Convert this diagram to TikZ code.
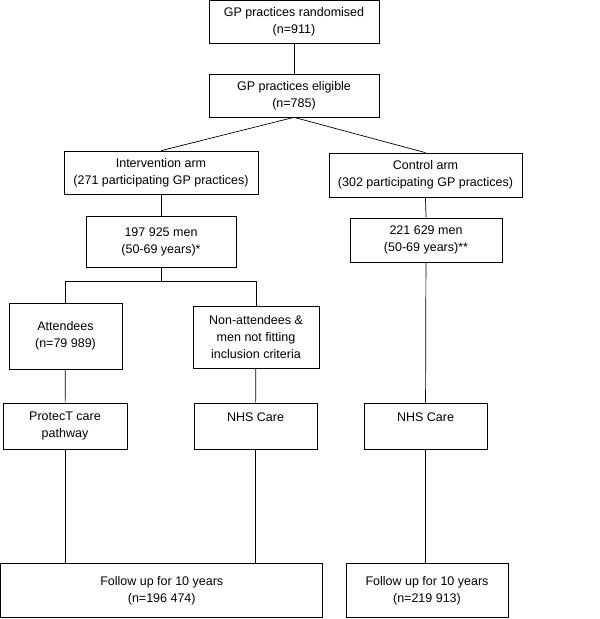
\documentclass[tikz,border=0pt]{standalone}
\usepackage{fontspec}
\setmainfont{Liberation Sans}
\begin{document}
\begin{tikzpicture}[x=1pt,y=-1pt,
  box/.style={draw,line width=0.7pt,align=center,inner sep=2pt,font=\fontsize{12.5}{17}\selectfont},
  link/.style={line width=0.7pt}]
\useasboundingbox (0,0) rectangle (600,619);
\node[box,minimum width=170pt,minimum height=43pt] (rand) at (294,22) {GP practices randomised\\(n=911)};
\node[box,minimum width=170pt,minimum height=43pt] (elig) at (294,95.5) {GP practices eligible\\(n=785)};
\node[box,minimum width=194pt,minimum height=43pt] (interv) at (161,172.5) {Intervention arm\\(271 participating GP practices)};
\node[box,minimum width=193pt,minimum height=44pt] (ctrl) at (425.5,175) {Control arm\\(302 participating GP practices)};
\node[box,minimum width=150pt,minimum height=51pt] (menA) at (161,241.5) {197 925 men\\(50-69 years)*};
\node[box,minimum width=152pt,minimum height=44pt] (menB) at (426,240) {221 629 men\\(50-69 years)**};
\node[box,minimum width=113pt,minimum height=66pt] (att) at (65.5,336) {Attendees\\(n=79 989)};
\node[box,minimum width=126pt,minimum height=62pt] (nonatt) at (256,337) {Non-attendees \&\\men not fitting\\inclusion criteria};
\node[box,minimum width=124pt,minimum height=46pt] (protect) at (65,426) {ProtecT care\\pathway};
\node[box,minimum width=123pt,minimum height=46pt] (nhsA) at (255.5,426) {NHS Care\\~};
\node[box,minimum width=123pt,minimum height=46pt] (nhsB) at (425.5,426) {NHS Care\\~};
\node[box,minimum width=322pt,minimum height=54pt] (followA) at (161.75,590.5) {Follow up for 10 years\\(n=196 474)};
\node[box,minimum width=162pt,minimum height=54pt] (followB) at (427,590.5) {Follow up for 10 years\\(n=219 913)};

\draw[link] (rand) -- (elig);
\draw[link] (elig.south) -- (interv.north);
\draw[link] (elig.south) -- (ctrl.north);
\draw[link] (interv) -- (menA);
\draw[link] (ctrl.south) -- (menB.north);
\draw[link] (menA.south) -- ++(0,14) coordinate (split);
\draw[link] (att.north) |- (split) -| (nonatt.north);
\draw[link] (att) -- (protect);
\draw[link] (nonatt) -- (nhsA);
\draw[link] (menB) -- (nhsB);
\draw[link] (protect.south) -- (protect.south |- followA.north);
\draw[link] (nhsA.south) -- (nhsA.south |- followA.north);
\draw[link] (nhsB.south) -- (nhsB.south |- followB.north);
\end{tikzpicture}
\end{document}
